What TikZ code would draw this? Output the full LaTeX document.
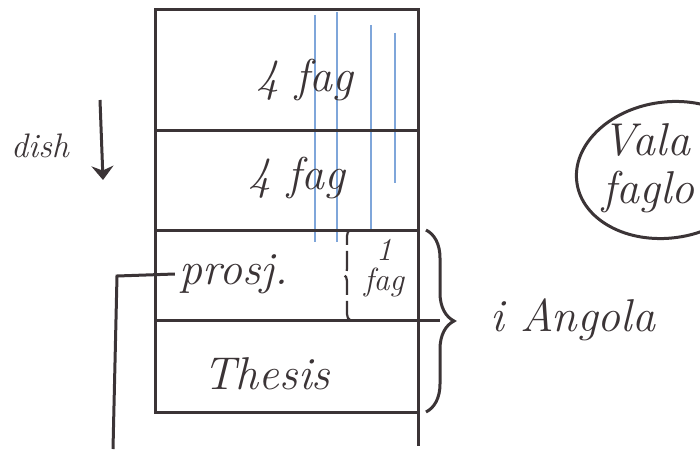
\documentclass[tikz,border=0pt]{standalone}
\usepackage{xcolor}
\usetikzlibrary{positioning, arrows.meta, shapes.geometric, decorations.pathreplacing}
\definecolor{ink}{HTML}{3B3436}
\definecolor{pen}{HTML}{7FA6DA}

\begin{document}
\begin{tikzpicture}[x=1pt,y=-1pt,line width=3pt,color=ink,
  row/.style={draw,minimum width=263pt,outer sep=0pt,inner sep=0pt},
  word/.style={font=\fontsize{46}{48}\selectfont\itshape},
  small/.style={font=\fontsize{32}{30}\selectfont\itshape,align=center,inner sep=0pt}]
\useasboundingbox (0,0) rectangle (700,449);
\clip (0,0) rectangle (700,449);

\foreach \x/\a/\b in {315/15/242,337/12/242,371/25/232,395/33/183}
  \draw[pen,line width=2pt] (\x,\a) -- (\x,\b);

\node[row,minimum height=121pt] (r1) at (286.5,70.5) {};
\node[row,minimum height=99pt,below=0pt of r1] (r2) {};
\node[row,minimum height=90pt,below=0pt of r2] (r3) {};
\node[row,minimum height=92pt,below=0pt of r3] (r4) {};

\coordinate (wallend) at (418,446);
\draw (r4.south east) -- (wallend);
\draw (r4.north east) -- ++(22,0);

\node[word] (fag1) at (305,80) {4 fag};
\node[word] (fag2) at (297,178) {4 fag};
\node[word] (prosj) at (234,274) {prosj.};
\node[word] (thesis) at (267,374) {Thesis};
\node[small] (fag3) at (384,268) {1\\fag};

\draw[line width=2.2pt,dash pattern=on 20pt off 6pt,decorate,decoration={brace,amplitude=6pt}]
  ([xshift=195pt]r4.north west) -- ([xshift=195pt]r3.north west);

\coordinate (pk) at (117,276);
\coordinate (pf) at (113,449);
\draw (prosj.west) -- (pk) -- (pf);

\coordinate (bt) at ([xshift=8pt]r3.north east);
\coordinate (bb) at ([xshift=8pt]r4.south east);
\draw[decorate,decoration={brace,amplitude=28pt}] (bt) -- (bb);
\coordinate (tip) at ([xshift=38pt]r3.south east);
\node[word,right=30pt of tip] (angola) {i Angola};

\node[font=\fontsize{34}{36}\selectfont\itshape] (dish) at (40,146) {dish};
\coordinate (at) at (100,100);
\coordinate (ab) at (103,180);
\draw[-{Stealth[length=14pt,width=22pt]}] (at) -- (ab);

\node[draw,ellipse,minimum width=184pt,minimum height=136pt,rotate=8] (valg) at (668,170) {};
\node[word,align=left,anchor=west] (valgtxt) at (598,168) {Vala\\faglo};
\end{tikzpicture}
\end{document}
